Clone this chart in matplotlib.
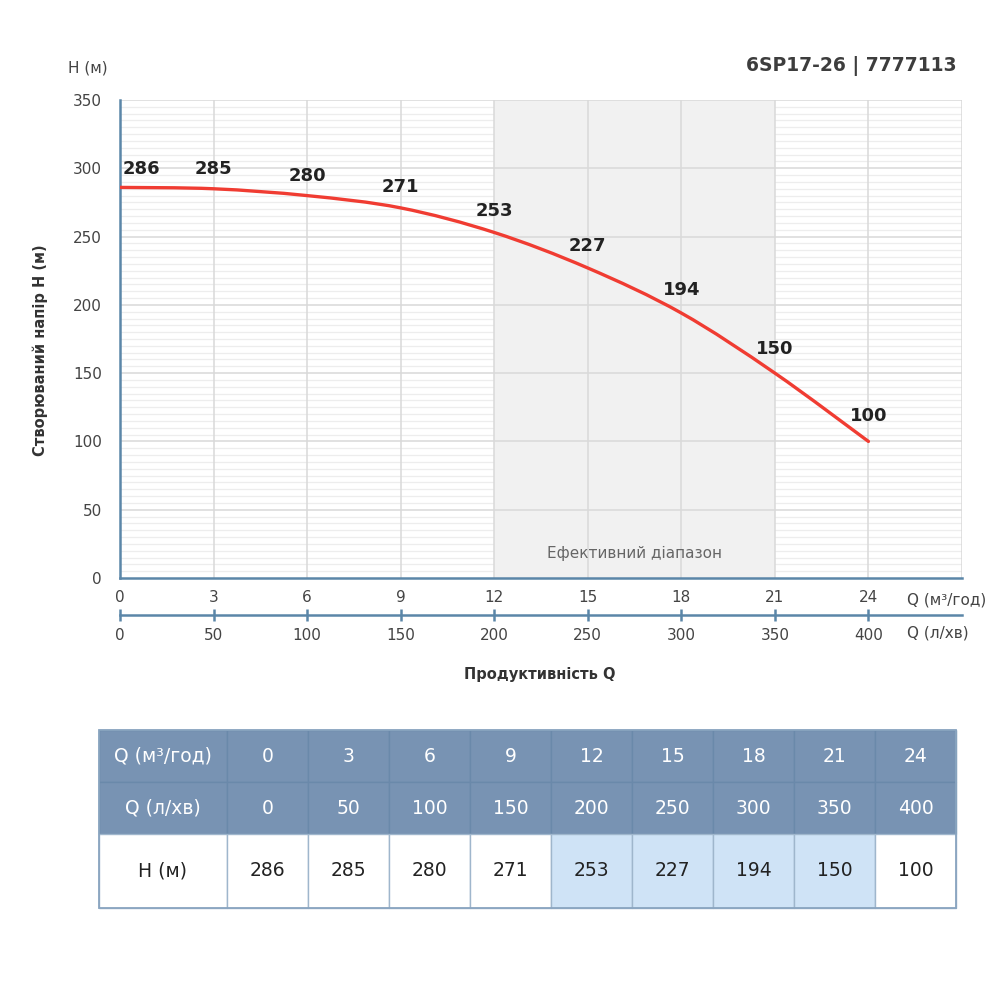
import matplotlib.pyplot as plt
from matplotlib.patches import Rectangle, PathPatch
from matplotlib.path import Path
import numpy as np

plt.rcParams['font.family'] = ['DejaVu Sans']

q_m3h = [0, 3, 6, 9, 12, 15, 18, 21, 24]
q_lpm = [0, 50, 100, 150, 200, 250, 300, 350, 400]
head = [286, 285, 280, 271, 253, 227, 194, 150, 100]
eff_range = (12, 21)
title = '6SP17-26 | 7777113'

fig = plt.figure(figsize=(10, 10), dpi=100)
ax = fig.add_axes([0.12, 0.422, 0.842, 0.478])
ax.set_xlim(0, 27)
ax.set_ylim(0, 350)

# сетка: мелкая под зоной, крупная над ней
for y in np.arange(5, 350, 5):
    if y % 50:
        ax.axhline(y, color='#ededed', lw=0.9, zorder=0.2)
ax.axvspan(eff_range[0], eff_range[1], color='#f1f1f1', zorder=0.4, lw=0)
for y in range(50, 351, 50):
    ax.axhline(y, color='#d9d9d9', lw=1.1, zorder=0.6)
for x in q_m3h[1:]:
    ax.axvline(x, color='#d9d9d9', lw=1.1, zorder=0.6)
ax.axvline(27, color='#d9d9d9', lw=1.1, zorder=0.6)
ax.text(sum(eff_range) / 2, 18, 'Ефективний діапазон', ha='center', va='center',
        fontsize=11, color='#666666', zorder=1)

# гладкая кривая через точки (Catmull-Rom -> кубические Безье)
pts = np.column_stack([q_m3h, head]).astype(float)
verts = [pts[0]]
codes = [Path.MOVETO]
for i in range(len(pts) - 1):
    p0 = pts[max(i - 1, 0)]
    p1, p2 = pts[i], pts[i + 1]
    p3 = pts[min(i + 2, len(pts) - 1)]
    verts += [p1 + (p2 - p0) / 6, p2 - (p3 - p1) / 6, p2]
    codes += [Path.CURVE4] * 3
ax.add_patch(PathPatch(Path(verts, codes), facecolor='none', edgecolor='#f03c32',
                       lw=2.4, zorder=3, capstyle='round'))

for i, (x, h) in enumerate(zip(q_m3h, head)):
    ha = 'left' if i == 0 else 'center'
    dy = 14 + max(0, (head[i - 1] - h) / 12) if i > 0 else 13
    ax.annotate(str(h), (x, h), xytext=(2 if i == 0 else 0, dy), textcoords='offset points',
                ha=ha, va='center', fontsize=13, fontweight='bold', color='#222222', zorder=4)

for s in ['top', 'right']:
    ax.spines[s].set_visible(False)
for s in ['left', 'bottom']:
    ax.spines[s].set_color('#5b86a8')
    ax.spines[s].set_linewidth(1.8)
ax.set_yticks(range(0, 351, 50))
ax.set_xticks(q_m3h)
ax.tick_params(axis='both', length=0, labelsize=11, labelcolor='#444444')
ax.tick_params(axis='y', pad=13)
ax.tick_params(axis='x', pad=9)

# вторая шкала л/хв
ax2 = fig.add_axes([0.12, 0.385, 0.842, 0.0001])
ax2.set_xlim(0, 27)
ax2.set_yticks([])
for s in ['top', 'right', 'left']:
    ax2.spines[s].set_visible(False)
ax2.spines['bottom'].set_color('#5b86a8')
ax2.spines['bottom'].set_linewidth(1.8)
ax2.set_xticks(q_m3h)
ax2.set_xticklabels([str(v) for v in q_lpm])
ax2.tick_params(axis='x', direction='inout', length=9, width=1.8, color='#5b86a8',
                labelsize=11, labelcolor='#444444', pad=5)

fig.text(0.907, 0.400, 'Q (м³/год)', ha='left', va='center', fontsize=11, color='#444444')
fig.text(0.907, 0.367, 'Q (л/хв)', ha='left', va='center', fontsize=11, color='#444444')
fig.text(0.54, 0.326, 'Продуктивність Q', ha='center', va='center', fontsize=10.5,
         fontweight='bold', color='#333333')
fig.text(0.088, 0.932, 'H (м)', ha='center', va='center', fontsize=11, color='#444444')
fig.text(0.040, 0.650, 'Створюваний напір H (м)', ha='center', va='center', rotation=90,
         fontsize=10.5, fontweight='bold', color='#333333')
fig.text(0.957, 0.934, title, ha='right', va='center', fontsize=13.5, fontweight='bold',
         color='#3d3d3d')

# таблица
tb = fig.add_axes([0, 0, 1, 1], zorder=-1)
tb.set_xlim(0, 1000)
tb.set_ylim(1000, 0)
tb.axis('off')
x0, w0, wc = 99, 128, 81
rows_y = [730, 782, 834, 908]
rows = [('Q (м³/год)', [str(v) for v in q_m3h]),
        ('Q (л/хв)', [str(v) for v in q_lpm]),
        ('H (м)', [str(v) for v in head])]
for r, (name, vals) in enumerate(rows):
    y, hgt = rows_y[r], rows_y[r + 1] - rows_y[r]
    header = r < 2
    cells = [(x0, w0, name, False)]
    for j, v in enumerate(vals):
        hl = (not header) and eff_range[0] <= q_m3h[j] <= eff_range[1]
        cells.append((x0 + w0 + j * wc, wc, v, hl))
    for cx, cw, txt, hl in cells:
        fc = '#7893b3' if header else ('#cfe3f6' if hl else 'white')
        ec = '#6a89aa' if header else '#9fb6cc'
        tb.add_patch(Rectangle((cx, y), cw, hgt, facecolor=fc, edgecolor=ec, lw=1))
        tb.text(cx + cw / 2, y + hgt / 2, txt, ha='center', va='center', fontsize=13.5,
                color='white' if header else '#222222')
tb.add_patch(Rectangle((x0, rows_y[0]), w0 + 9 * wc, rows_y[-1] - rows_y[0],
                       facecolor='none', edgecolor='#8aa5c0', lw=1.3))

fig.savefig('out.png', dpi=100)
